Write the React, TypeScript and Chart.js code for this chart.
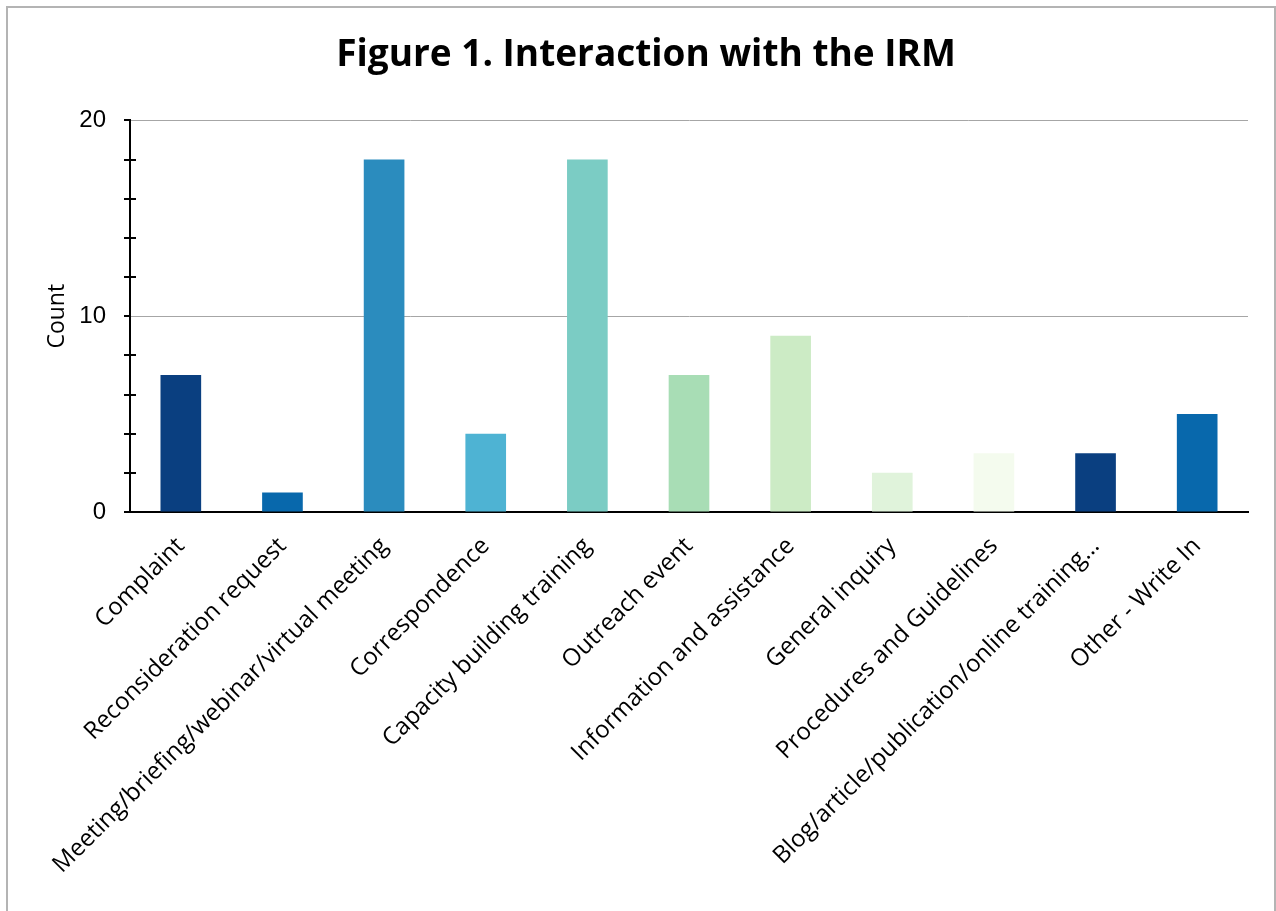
import React, { useEffect, useRef } from "react";
import { Chart, registerables } from "chart.js";

Chart.register(...registerables);

const categories = [
  "Complaint",
  "Reconsideration request",
  "Meeting/briefing/webinar/virtual meeting",
  "Correspondence",
  "Capacity building training",
  "Outreach event",
  "Information and assistance",
  "General inquiry",
  "Procedures and Guidelines",
  "Blog/article/publication/online training…",
  "Other - Write In",
];
const counts = [7, 1, 18, 4, 18, 7, 9, 2, 3, 3, 5];
const barColors = [
  "#0a3f80",
  "#0868ac",
  "#2b8cbe",
  "#4eb3d3",
  "#7bccc4",
  "#a8ddb5",
  "#ccebc5",
  "#e0f3db",
  "#f4fbee",
  "#0a3f80",
  "#0868ac",
];
const yMax = 20;
const yStep = 2;
const yLabelEvery = 10;

const W = 1264;
const H = 903;

const minorTicks = {
  id: "minorTicks",
  afterDraw(chart: any) {
    const y = chart.scales.y;
    const x0 = chart.chartArea.left;
    const ctx = chart.ctx;
    ctx.save();
    ctx.strokeStyle = "#000";
    ctx.lineWidth = 2;
    for (let v = 0; v <= yMax; v += yStep) {
      const py = Math.round(y.getPixelForValue(v));
      ctx.beginPath();
      ctx.moveTo(x0 - 6, py);
      ctx.lineTo(v % yLabelEvery === 0 ? x0 : x0 + 6, py);
      ctx.stroke();
    }
    ctx.restore();
  },
};

export default function App() {
  const ref = useRef<HTMLCanvasElement>(null);
  useEffect(() => {
    if (!ref.current) return;
    const chart = new Chart(ref.current, {
      type: "bar",
      data: {
        labels: categories,
        datasets: [
          {
            data: counts,
            backgroundColor: barColors,
            barPercentage: 0.4,
            categoryPercentage: 1,
          },
        ],
      },
      plugins: [minorTicks],
      options: {
        responsive: false,
        animation: false,
        devicePixelRatio: 1,
        layout: { padding: { left: 36, right: 24, top: 0, bottom: 0 } },
        plugins: {
          legend: { display: false },
          tooltip: { enabled: false },
          title: {
            display: true,
            text: "Figure 1. Interaction with the IRM",
            color: "#000",
            font: { family: "'Open Sans', sans-serif", size: 37, weight: "bold", lineHeight: 1.2 },
            padding: { top: 25, bottom: 43 },
          },
        },
        scales: {
          x: {
            grid: { display: false, drawTicks: false },
            border: { display: true, color: "#000", width: 2 },
            ticks: {
              autoSkip: false,
              maxRotation: 45,
              minRotation: 45,
              color: "#000",
              padding: 20,
              font: { family: "'Open Sans', sans-serif", size: 24 },
            },
            afterFit(scale: any) {
              scale.height = H - 504;
            },
          },
          y: {
            min: 0,
            max: yMax,
            border: { display: true, color: "#000", width: 2 },
            grid: {
              drawTicks: false,
              color: (c: any) =>
                c.tick && c.tick.value % yLabelEvery === 0 && c.tick.value !== 0
                  ? "#a6a6a6"
                  : "rgba(0,0,0,0)",
              lineWidth: 1,
            },
            ticks: {
              stepSize: yStep,
              color: "#000",
              padding: 24,
              font: { family: "'Liberation Sans', sans-serif", size: 24 },
              callback: (v: any) => (Number(v) % yLabelEvery === 0 ? String(v) : ""),
            },
            title: {
              display: true,
              text: "Count",
              color: "#000",
              font: { family: "'Open Sans', sans-serif", size: 23 },
              padding: 0,
            },
            afterFit(scale: any) {
              scale.width = 122 - 36;
            },
          },
        },
      },
    });
    return () => chart.destroy();
  }, []);
  return (
    <div
      style={{
        position: "fixed",
        left: 6,
        top: 6,
        width: 1270,
        height: 905,
        boxSizing: "border-box",
        borderTop: "2px solid #b4b4b4",
        borderLeft: "2px solid #b4b4b4",
        borderRight: "2px solid #b4b4b4",
        background: "#fff",
      }}
    >
      <canvas ref={ref} width={W} height={H} style={{ display: "block", width: W, height: H }} />
    </div>
  );
}
